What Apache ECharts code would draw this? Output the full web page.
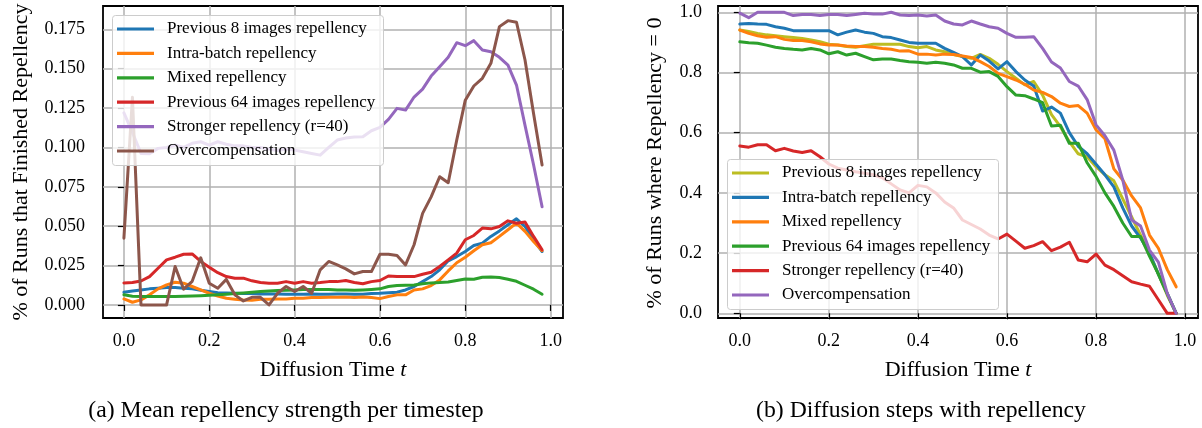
<!DOCTYPE html>
<html>
<head>
<meta charset="utf-8">
<script src="https://cdn.jsdelivr.net/npm/echarts@6/dist/echarts.min.js"></script>
<style>
  html, body { margin: 0; padding: 0; background: #ffffff; }
  #chart { width: 1202px; height: 428px; }
</style>
</head>
<body>
<div id="chart"></div>
<script>
// Diffusion time grid shared by both panels
const timeSteps = [
  0.00, 0.02, 0.04, 0.06, 0.08, 0.10, 0.12, 0.14, 0.16, 0.18,
  0.20, 0.22, 0.24, 0.26, 0.28, 0.30, 0.32, 0.34, 0.36, 0.38,
  0.40, 0.42, 0.44, 0.46, 0.48, 0.50, 0.52, 0.54, 0.56, 0.58,
  0.60, 0.62, 0.64, 0.66, 0.68, 0.70, 0.72, 0.74, 0.76, 0.78,
  0.80, 0.82, 0.84, 0.86, 0.88, 0.90, 0.92, 0.94, 0.96, 0.98
];

// Tick labels
const xTicks = [0.0, 0.2, 0.4, 0.6, 0.8, 1.0];
const yTicksLeft = [0.000, 0.025, 0.050, 0.075, 0.100, 0.125, 0.150, 0.175];
const yTicksRight = [0.0, 0.2, 0.4, 0.6, 0.8, 1.0];

// Panel (a): share of runs that finished repellency at each timestep
const namesLeft = [
  'Previous 8 images repellency',
  'Intra-batch repellency',
  'Mixed repellency',
  'Previous 64 images repellency',
  'Stronger repellency (r=40)',
  'Overcompensation'
];
const colorsLeft = ['#1f77b4', '#ff7f0e', '#2ca02c', '#d62728', '#9467bd', '#8c564b'];

const finishedPrev8 = [
  0.0081, 0.0089, 0.0095, 0.0102, 0.0106, 0.0110, 0.0110, 0.0106, 0.0102, 0.0093,
  0.0085, 0.0078, 0.0076, 0.0074, 0.0072, 0.0072, 0.0070, 0.0070, 0.0070, 0.0068,
  0.0068, 0.0068, 0.0070, 0.0068, 0.0068, 0.0070, 0.0070, 0.0068, 0.0068, 0.0072,
  0.0074, 0.0078, 0.0081, 0.0095, 0.0117, 0.0148, 0.0180, 0.0223, 0.0280, 0.0307,
  0.0339, 0.0377, 0.0392, 0.0435, 0.0470, 0.0509, 0.0547, 0.0498, 0.0414, 0.0339
];
const finishedIntra = [
  0.0038, 0.0017, 0.0032, 0.0064, 0.0102, 0.0127, 0.0144, 0.0138, 0.0117, 0.0095,
  0.0074, 0.0057, 0.0042, 0.0036, 0.0032, 0.0030, 0.0036, 0.0036, 0.0038, 0.0038,
  0.0042, 0.0042, 0.0047, 0.0047, 0.0049, 0.0049, 0.0051, 0.0047, 0.0051, 0.0047,
  0.0040, 0.0053, 0.0064, 0.0064, 0.0095, 0.0102, 0.0123, 0.0159, 0.0216, 0.0268,
  0.0303, 0.0344, 0.0382, 0.0395, 0.0435, 0.0477, 0.0519, 0.0467, 0.0403, 0.0344
];
const finishedMixed = [
  0.0064, 0.0055, 0.0053, 0.0053, 0.0053, 0.0053, 0.0053, 0.0055, 0.0057, 0.0059,
  0.0061, 0.0064, 0.0068, 0.0072, 0.0076, 0.0081, 0.0085, 0.0089, 0.0091, 0.0093,
  0.0095, 0.0098, 0.0098, 0.0098, 0.0098, 0.0095, 0.0095, 0.0093, 0.0095, 0.0098,
  0.0102, 0.0117, 0.0123, 0.0125, 0.0127, 0.0134, 0.0140, 0.0142, 0.0146, 0.0155,
  0.0165, 0.0163, 0.0176, 0.0178, 0.0174, 0.0163, 0.0150, 0.0125, 0.0100, 0.0068
];
const finishedPrev64 = [
  0.0140, 0.0142, 0.0152, 0.0180, 0.0233, 0.0286, 0.0303, 0.0322, 0.0324, 0.0276,
  0.0240, 0.0205, 0.0180, 0.0170, 0.0170, 0.0153, 0.0142, 0.0138, 0.0138, 0.0148,
  0.0138, 0.0148, 0.0138, 0.0142, 0.0148, 0.0148, 0.0155, 0.0142, 0.0134, 0.0148,
  0.0155, 0.0184, 0.0180, 0.0180, 0.0180, 0.0195, 0.0208, 0.0244, 0.0286, 0.0329,
  0.0414, 0.0441, 0.0488, 0.0483, 0.0498, 0.0534, 0.0519, 0.0526, 0.0435, 0.0350
];
const finishedStronger = [
  0.1220, 0.1095, 0.0962, 0.0960, 0.0994, 0.1000, 0.1015, 0.1000, 0.1026, 0.1036,
  0.1015, 0.1036, 0.1020, 0.1010, 0.1010, 0.1000, 0.1000, 0.0990, 0.0980, 0.0990,
  0.0983, 0.0972, 0.0962, 0.0951, 0.1000, 0.1047, 0.1060, 0.1066, 0.1068, 0.1106,
  0.1127, 0.1178, 0.1248, 0.1237, 0.1320, 0.1370, 0.1453, 0.1513, 0.1572, 0.1665,
  0.1646, 0.1678, 0.1619, 0.1608, 0.1572, 0.1523, 0.1396, 0.1140, 0.0890, 0.0623
];
const finishedOvercomp = [
  0.0424, 0.1318, 0.0000, 0.0000, 0.0000, 0.0000, 0.0244, 0.0100, 0.0150, 0.0299,
  0.0138, 0.0106, 0.0162, 0.0064, 0.0025, 0.0048, 0.0048, 0.0000, 0.0074, 0.0117,
  0.0085, 0.0117, 0.0074, 0.0223, 0.0276, 0.0254, 0.0229, 0.0197, 0.0212, 0.0212,
  0.0322, 0.0322, 0.0314, 0.0254, 0.0382, 0.0581, 0.0686, 0.0814, 0.0776, 0.1047,
  0.1300, 0.1390, 0.1439, 0.1534, 0.1767, 0.1805, 0.1795, 0.1555, 0.1216, 0.0888
];
const valuesLeft = [finishedPrev8, finishedIntra, finishedMixed, finishedPrev64, finishedStronger, finishedOvercomp];

// Panel (b): share of runs where repellency is still zero
const namesRight = namesLeft;
const colorsRight = ['#bcbd22', '#1f77b4', '#ff7f0e', '#2ca02c', '#d62728', '#9467bd'];

const zeroPrev8 = [
  0.941, 0.936, 0.930, 0.925, 0.922, 0.919, 0.916, 0.913, 0.908, 0.902,
  0.894, 0.891, 0.886, 0.884, 0.889, 0.894, 0.894, 0.894, 0.894, 0.886,
  0.882, 0.886, 0.875, 0.869, 0.860, 0.853, 0.847, 0.860, 0.847, 0.827,
  0.803, 0.781, 0.759, 0.770, 0.725, 0.660, 0.620, 0.570, 0.530, 0.520,
  0.487, 0.460, 0.440, 0.380, 0.320, 0.260, 0.200, 0.130, 0.060, 0.000
];
const zeroIntra = [
  0.961, 0.963, 0.961, 0.960, 0.952, 0.947, 0.939, 0.939, 0.939, 0.939,
  0.939, 0.925, 0.934, 0.941, 0.934, 0.930, 0.919, 0.916, 0.908, 0.900,
  0.897, 0.897, 0.897, 0.880, 0.867, 0.853, 0.825, 0.858, 0.838, 0.812,
  0.836, 0.803, 0.775, 0.755, 0.672, 0.685, 0.665, 0.600, 0.555, 0.530,
  0.495, 0.460, 0.420, 0.350, 0.290, 0.250, 0.200, 0.130, 0.065, 0.000
];
const zeroMixed = [
  0.941, 0.930, 0.922, 0.917, 0.919, 0.910, 0.906, 0.906, 0.902, 0.895,
  0.891, 0.891, 0.888, 0.886, 0.886, 0.884, 0.880, 0.877, 0.871, 0.872,
  0.861, 0.861, 0.858, 0.861, 0.860, 0.855, 0.850, 0.836, 0.820, 0.797,
  0.786, 0.775, 0.761, 0.742, 0.734, 0.720, 0.698, 0.687, 0.690, 0.665,
  0.610, 0.580, 0.480, 0.443, 0.390, 0.350, 0.260, 0.216, 0.145, 0.088
];
const zeroPrev64 = [
  0.902, 0.899, 0.897, 0.891, 0.884, 0.880, 0.877, 0.875, 0.880, 0.875,
  0.862, 0.869, 0.858, 0.864, 0.853, 0.842, 0.845, 0.845, 0.840, 0.836,
  0.834, 0.831, 0.834, 0.831, 0.825, 0.814, 0.814, 0.801, 0.803, 0.787,
  0.753, 0.725, 0.723, 0.712, 0.700, 0.622, 0.625, 0.565, 0.565, 0.500,
  0.455, 0.400, 0.355, 0.300, 0.255, 0.255, 0.190, 0.130, 0.065, 0.000
];
const zeroStronger = [
  0.556, 0.552, 0.560, 0.560, 0.540, 0.548, 0.539, 0.534, 0.540, 0.520,
  0.496, 0.482, 0.476, 0.470, 0.465, 0.460, 0.450, 0.430, 0.410, 0.400,
  0.425, 0.420, 0.400, 0.370, 0.350, 0.310, 0.295, 0.280, 0.260, 0.247,
  0.263, 0.240, 0.216, 0.225, 0.238, 0.208, 0.220, 0.236, 0.177, 0.171,
  0.197, 0.160, 0.145, 0.125, 0.105, 0.097, 0.090, 0.045, 0.000, 0.000
];
const zeroOvercomp = [
  0.997, 0.982, 1.000, 1.000, 1.000, 1.000, 0.989, 0.993, 0.993, 0.989,
  0.993, 0.993, 0.989, 0.993, 0.997, 0.994, 0.994, 1.000, 0.991, 0.989,
  0.991, 0.988, 0.991, 0.971, 0.961, 0.958, 0.971, 0.961, 0.952, 0.947,
  0.930, 0.917, 0.917, 0.919, 0.880, 0.835, 0.815, 0.770, 0.755, 0.710,
  0.626, 0.590, 0.542, 0.443, 0.310, 0.290, 0.210, 0.170, 0.066, 0.000
];
const valuesRight = [zeroPrev8, zeroIntra, zeroMixed, zeroPrev64, zeroStronger, zeroOvercomp];

const SERIF = '"Liberation Serif", "DejaVu Serif", serif';
const TICK_FONT = 18;
const LEGEND_FONT = 17;
const TITLE_FONT = 22;
const CAPTION_FONT = 23.7;
const RIGHT_PREFIX = 'b|';

// Legend frames: [left, top, width, height]
const LEGEND_BOX_LEFT = [112, 15, 271, 150];
const LEGEND_BOX_RIGHT = [727, 159, 271, 150];

function buildSeries(names, colors, values, axisIndex, prefix) {
  return names.map((name, k) => ({
    name: prefix + name,
    type: 'line',
    xAxisIndex: axisIndex,
    yAxisIndex: axisIndex,
    data: timeSteps.map((t, i) => [t, values[k][i]]),
    showSymbol: false,
    symbol: 'none',
    color: colors[k],
    lineStyle: { color: colors[k], width: 3, join: 'round', cap: 'round' },
    emphasis: { disabled: true },
    animation: false
  }));
}

function xAxisFor(gridIndex) {
  return {
    type: 'value',
    gridIndex: gridIndex,
    min: -0.049,
    max: 1.029,
    axisLine: { show: false },
    axisTick: { show: true, customValues: xTicks, length: 6, lineStyle: { color: '#000', width: 1.2 } },
    axisLabel: {
      customValues: xTicks,
      formatter: v => v.toFixed(1),
      fontFamily: SERIF, fontSize: TICK_FONT, color: '#000', margin: 14
    },
    splitLine: { show: true, lineStyle: { color: '#b0b0b0', width: 1.5 } }
  };
}

function yAxisFor(gridIndex, min, max, ticks, digits, margin) {
  return {
    type: 'value',
    gridIndex: gridIndex,
    min: min,
    max: max,
    axisLine: { show: false },
    axisTick: { show: true, customValues: ticks, length: 6, lineStyle: { color: '#000', width: 1.2 } },
    axisLabel: {
      customValues: ticks,
      formatter: v => v.toFixed(digits),
      fontFamily: SERIF, fontSize: TICK_FONT, color: '#000', margin: margin
    },
    splitLine: { show: true, lineStyle: { color: '#b0b0b0', width: 1.5 } }
  };
}

// Legend entries sit on an upper layer; the translucent frame beneath them is a graphic rect
function legendFor(names, colors, prefix, box) {
  return {
    orient: 'vertical',
    left: box[0],
    top: box[1],
    zlevel: 2,
    padding: [4, 8, 5, 5],
    itemGap: 4.4,
    itemWidth: 37,
    itemHeight: 3.2,
    icon: 'rect',
    backgroundColor: 'transparent',
    borderWidth: 0,
    selectedMode: false,
    formatter: n => n.startsWith(RIGHT_PREFIX) ? n.slice(RIGHT_PREFIX.length) : n,
    textStyle: { fontFamily: SERIF, fontSize: LEGEND_FONT, color: '#000', lineHeight: 20, padding: [0, 0, 0, 8] },
    data: names.map((n, k) => ({ name: prefix + n, itemStyle: { color: colors[k], borderWidth: 0 } }))
  };
}

function legendFrame(box) {
  return {
    type: 'rect', zlevel: 1, z: 100,
    shape: { x: box[0] + 0.5, y: box[1] + 0.5, width: box[2], height: box[3], r: 3 },
    style: { fill: 'rgba(255,255,255,0.8)', stroke: '#cccccc', lineWidth: 1 }
  };
}

function rotatedTitle(text, x, y) {
  return {
    type: 'text', x: x, y: y, rotation: Math.PI / 2,
    style: { text: text, fontFamily: SERIF, fontSize: TITLE_FONT, fill: '#000', align: 'center', verticalAlign: 'middle' }
  };
}
function timeTitle(x, y) {
  return {
    type: 'text', x: x, y: y,
    style: {
      text: 'Diffusion Time {i|t}',
      fontFamily: SERIF, fontSize: TITLE_FONT, fill: '#000', align: 'center', verticalAlign: 'middle',
      rich: { i: { fontFamily: SERIF, fontSize: TITLE_FONT, fontStyle: 'italic', fill: '#000' } }
    }
  };
}
function caption(text, x, y) {
  return {
    type: 'text', x: x, y: y,
    style: { text: text, fontFamily: SERIF, fontSize: CAPTION_FONT, fill: '#000', align: 'center', verticalAlign: 'middle' }
  };
}

const chart = echarts.init(document.getElementById('chart'), null, { renderer: 'canvas' });
chart.setOption({
  animation: false,
  backgroundColor: '#ffffff',
  grid: [
    { left: 103, top: 6, width: 460, height: 312, show: true, borderColor: '#000', borderWidth: 1.8, backgroundColor: 'transparent', containLabel: false },
    { left: 718, top: 6, width: 480, height: 312, show: true, borderColor: '#000', borderWidth: 1.8, backgroundColor: 'transparent', containLabel: false }
  ],
  xAxis: [xAxisFor(0), xAxisFor(1)],
  yAxis: [
    yAxisFor(0, -0.0083, 0.1898, yTicksLeft, 3, 18),
    yAxisFor(1, -0.0156, 1.0209, yTicksRight, 1, 16)
  ],
  legend: [
    legendFor(namesLeft, colorsLeft, '', LEGEND_BOX_LEFT),
    legendFor(namesRight, colorsRight, RIGHT_PREFIX, LEGEND_BOX_RIGHT)
  ],
  series: [
    ...buildSeries(namesLeft, colorsLeft, valuesLeft, 0, ''),
    ...buildSeries(namesRight, colorsRight, valuesRight, 1, RIGHT_PREFIX)
  ],
  graphic: [
    legendFrame(LEGEND_BOX_LEFT),
    legendFrame(LEGEND_BOX_RIGHT),
    rotatedTitle('% of Runs that Finished Repellency', 21, 162),
    rotatedTitle('% of Runs where Repellency = 0', 655, 163),
    timeTitle(333, 370),
    timeTitle(958, 370),
    caption('(a) Mean repellency strength per timestep', 286, 411),
    caption('(b) Diffusion steps with repellency', 921, 411)
  ]
});
</script>
</body>
</html>
